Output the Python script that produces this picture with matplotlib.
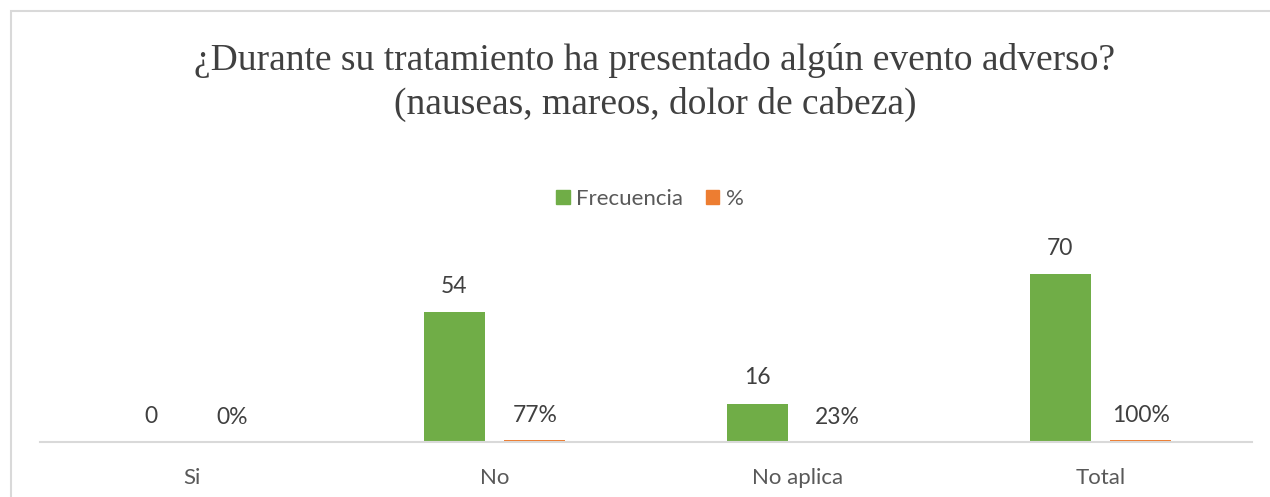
import numpy as np
import matplotlib.pyplot as plt
from matplotlib.patches import Rectangle, Patch

categories = ['Si', 'No', 'No aplica', 'Total']
frecuencia = [0, 54, 16, 70]
porcentaje = [0.0, 0.77, 0.23, 1.0]
pct_labels = ['0%', '77%', '23%', '100%']

GREEN = '#70AD47'
ORANGE = '#ED7D31'
TXT = '#404040'

W, H = 1270, 497
fig = plt.figure(figsize=(W / 100, H / 100), dpi=100)

# borde del gráfico (solo se ven izquierda y arriba)
fig.patches.append(Rectangle((10.5 / W, -0.2), 1.2, 1.2 - 10.5 / H, transform=fig.transFigure,
                             fill=False, edgecolor='#D9D9D9', linewidth=1.5))

ax = fig.add_axes([40 / W, (H - 442) / H, 1212 / W, 192 / H])
x = np.arange(len(categories))
bw = 0.2
off = 0.133
b1 = ax.bar(x - off, frecuencia, bw, color=GREEN)
b2 = ax.bar(x + off, porcentaje, bw, color=ORANGE)

for xi, v in zip(x, frecuencia):
    ax.annotate(str(v), (xi - off, v), xytext=(0, 18.5), textcoords='offset points',
                ha='center', va='center', fontsize=16.5, color=TXT, family='Lato')
for xi, v, s in zip(x, porcentaje, pct_labels):
    ax.annotate(s, (xi + off, v), xytext=(0, 17.5), textcoords='offset points',
                ha='center', va='center', fontsize=16.5, color=TXT, family='Lato')

ax.set_xlim(-0.5, 3.5)
ax.set_ylim(0, 80)
ax.set_yticks([])
ax.set_xticks(x)
ax.set_xticklabels(categories, fontsize=16, color='#595959', family='Lato')
ax.tick_params(axis='x', length=0, pad=19)
for s in ['top', 'right', 'left']:
    ax.spines[s].set_visible(False)
ax.spines['bottom'].set_color('#D9D9D9')
ax.spines['bottom'].set_linewidth(1.5)

fig.text(655 / W, 1 - 60 / H, '¿Durante su tratamiento ha presentado algún evento adverso?',
         ha='center', va='center', fontsize=27, color=TXT, family='Liberation Serif')
fig.text(655 / W, 1 - 104 / H, '(nauseas, mareos, dolor de cabeza)',
         ha='center', va='center', fontsize=27, color=TXT, family='Liberation Serif')

handles = [Patch(color=GREEN, label='Frecuencia'), Patch(color=ORANGE, label='%')]
fig.legend(handles=handles, loc='center', bbox_to_anchor=(650 / W, 1 - 199 / H), ncol=2,
           frameon=False, handlelength=0.6, handleheight=0.6, handletextpad=0.3,
           columnspacing=1.0, prop={'family': 'Lato', 'size': 16}, labelcolor='#595959')

fig.savefig('out.png', dpi=100)
